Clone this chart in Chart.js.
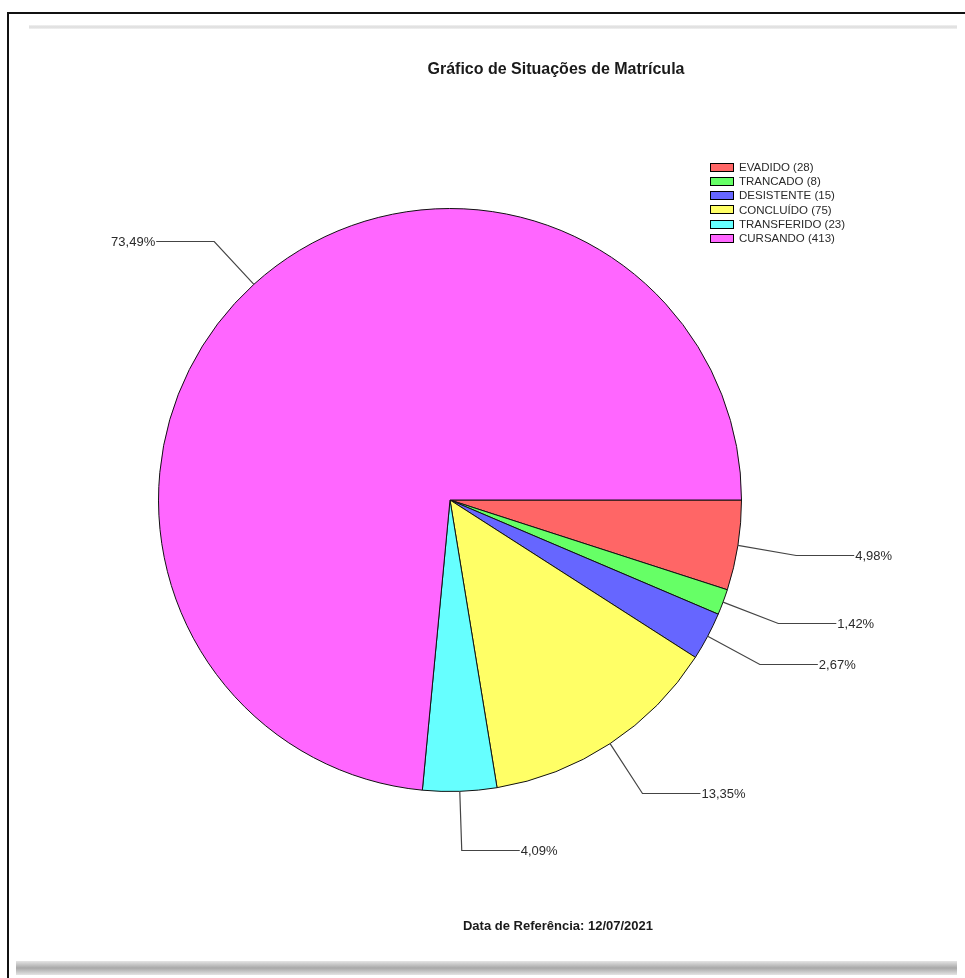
<!DOCTYPE html>
<html lang="pt-BR">
<head>
  <meta charset="UTF-8" />
  <title>Gráfico de Situações de Matrícula</title>
  <script src="https://cdn.jsdelivr.net/npm/chart.js"></script>
  <style>
    html, body {
      margin: 0;
      padding: 0;
      background: #fff;
      width: 965px;
      height: 978px;
      overflow: hidden;
      font-family: Arial, "Liberation Sans", sans-serif;
    }
    #frame {
      position: absolute;
      left: 7px;
      top: 12px;
      width: 960px;
      height: 970px;
      border-top: 2px solid #111;
      border-left: 2px solid #111;
    }
    #topRule {
      position: absolute;
      left: 29px;
      top: 25px;
      width: 928px;
      height: 4px;
      background: linear-gradient(#f2f2f2, #dcdcdc, #f2f2f2);
    }
    #bottomBar {
      position: absolute;
      left: 16px;
      top: 961px;
      width: 941px;
      height: 14px;
      background: linear-gradient(#e4e4e4, #a8a8a8 50%, #e4e4e4);
    }
    #chart {
      position: absolute;
      left: 0;
      top: 0;
    }
  </style>
</head>
<body>
  <div id="frame"></div>
  <div id="topRule"></div>
  <div id="bottomBar"></div>
  <canvas id="chart" width="965" height="978"></canvas>

  <script>
    const categories = ['EVADIDO', 'TRANCADO', 'DESISTENTE', 'CONCLUÍDO', 'TRANSFERIDO', 'CURSANDO'];
    const counts = [28, 8, 15, 75, 23, 413];
    const sliceColors = ['#ff6666', '#66ff66', '#6666ff', '#ffff66', '#66ffff', '#ff66ff'];
    const chartTitle = 'Gráfico de Situações de Matrícula';
    const refDate = 'Data de Referência: 12/07/2021';

    const total = counts.reduce((a, b) => a + b, 0);
    const pct = v => (v / total * 100).toFixed(2).replace('.', ',') + '%';

    // title, legend, leader-line labels and footer drawn on the canvas
    const decorations = {
      id: 'decorations',
      afterDraw(chart) {
        const ctx = chart.ctx;
        ctx.save();

        ctx.fillStyle = '#1a1a1a';
        ctx.textAlign = 'center';
        ctx.textBaseline = 'middle';
        ctx.font = 'bold 16px Arial, "Liberation Sans", sans-serif';
        ctx.fillText(chartTitle, 556, 70);
        ctx.font = 'bold 13px Arial, "Liberation Sans", sans-serif';
        ctx.fillText(refDate, 558, 926);

        // legend
        ctx.textAlign = 'left';
        ctx.font = '11.5px Arial, "Liberation Sans", sans-serif';
        categories.forEach((c, i) => {
          const y = 166.5 + i * 14.3;
          ctx.fillStyle = sliceColors[i];
          ctx.fillRect(710.5, Math.round(y - 4) + 0.5, 23, 8);
          ctx.strokeStyle = '#000';
          ctx.lineWidth = 1;
          ctx.strokeRect(710.5, Math.round(y - 4) + 0.5, 23, 8);
          ctx.fillStyle = '#2a2a2a';
          ctx.fillText(c + ' (' + counts[i] + ')', 739, y + 1);
        });

        // leader lines
        const meta = chart.getDatasetMeta(0);
        ctx.font = '13px Arial, "Liberation Sans", sans-serif';
        meta.data.forEach((arc, i) => {
          const p = arc.getProps(['x', 'y', 'startAngle', 'endAngle', 'outerRadius'], true);
          const mid = (p.startAngle + p.endAngle) / 2;
          const cos = Math.cos(mid), sin = Math.sin(mid);
          const x1 = p.x + p.outerRadius * cos, y1 = p.y + p.outerRadius * sin;
          const r2 = p.outerRadius + 59;
          const x2 = p.x + r2 * cos, y2 = Math.round(p.y + r2 * sin) + 0.5;
          const dir = cos >= 0 ? 1 : -1;
          const x3 = x2 + dir * 58;
          ctx.strokeStyle = '#444';
          ctx.lineWidth = 1.2;
          ctx.beginPath();
          ctx.moveTo(x1, y1);
          ctx.lineTo(x2, y2);
          ctx.lineTo(x3, y2);
          ctx.stroke();
          ctx.fillStyle = '#2a2a2a';
          ctx.textAlign = dir > 0 ? 'left' : 'right';
          ctx.fillText(pct(counts[i]), x3 + dir * 1, y2 + 1);
        });

        ctx.restore();
      }
    };

    new Chart(document.getElementById('chart'), {
      type: 'pie',
      data: {
        labels: categories,
        datasets: [{
          data: counts,
          backgroundColor: sliceColors,
          borderColor: '#111',
          borderWidth: 1
        }]
      },
      options: {
        responsive: false,
        animation: false,
        devicePixelRatio: 1,
        rotation: 90,
        layout: {
          padding: { left: 158, right: 223, top: 208, bottom: 186 }
        },
        plugins: {
          legend: { display: false },
          title: { display: false },
          tooltip: { enabled: false }
        }
      },
      plugins: [decorations]
    });
  </script>
</body>
</html>
